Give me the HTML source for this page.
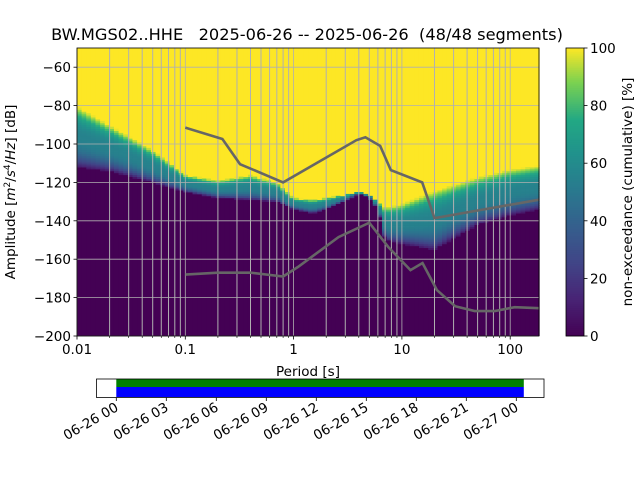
<!DOCTYPE html>
<html><head><meta charset="utf-8"><style>
body{margin:0;background:#fff;}
svg text{font-family:"DejaVu Sans","Liberation Sans",sans-serif;fill:#000;}
</style></head><body>
<svg id="chart" width="640" height="480" xmlns="http://www.w3.org/2000/svg">
<rect width="640" height="480" fill="#fff"/>
<text x="307" y="40" font-size="16.2" text-anchor="middle" xml:space="preserve">BW.MGS02..HHE   2025-06-26 -- 2025-06-26  (48/48 segments)</text>
<g id="heat"></g>
<g id="grid"></g>
<g id="models"></g>
<rect x="77" y="48" width="462" height="288" fill="none" stroke="#000" stroke-width="0.8"/>
<g id="axes"></g>
<text x="308" y="376" font-size="13.5" text-anchor="middle">Period [s]</text>
<text transform="translate(15,192) rotate(-90)" font-size="13.5" text-anchor="middle">Amplitude [<tspan font-style="italic">m</tspan><tspan font-size="9" dy="-5">2</tspan><tspan dy="5">/</tspan><tspan font-style="italic">s</tspan><tspan font-size="9" dy="-5">4</tspan><tspan dy="5">/</tspan><tspan font-style="italic">Hz</tspan>] [dB]</text>
<g id="cbar"></g>
<text transform="translate(632,192) rotate(-90)" font-size="13.5" text-anchor="middle">non-exceedance (cumulative) [%]</text>
<g id="timeline"></g>
</svg>
<script>
const NS="http://www.w3.org/2000/svg";
// ---- data ----
const edgePeriods=[0.01,0.02,0.05,0.1,0.2,0.4,0.7,1,1.5,2,4,5,6,7,10,20,50,100,185];
const lowerDb=[-112,-114,-120,-125,-128,-129,-130,-134,-136,-134,-126,-128,-134,-150,-152,-155,-142,-137,-134];
const upperDb=[-80,-90,-103,-116,-119,-116,-120,-128,-129,-128,-125,-126,-130,-133,-131,-124,-117,-113,-111];
const nhnmPeriods=[0.1,0.22,0.32,0.8,3.8,4.6,6.3,7.9,15.4,20,185];
const nhnmDb=[-91.5,-97.4,-110.5,-120,-98,-96.5,-101,-113.6,-120,-138.6,-129];
const nlnmPeriods=[0.1,0.2,0.4,0.8,1.1,2.6,5,7.5,12,15.5,21,31,47,72,110,185];
const nlnmDb=[-168,-167,-167,-169,-164,-148.5,-141,-153.7,-165.7,-162,-176,-184.5,-187,-187,-185,-185.5];
const xTicks=[0.01,0.1,1,10,100];
const xTickLabels=["0.01","0.1","1","10","100"];
const yTicks=[-60,-80,-100,-120,-140,-160,-180,-200];
const cbTicks=[0,20,40,60,80,100];
const timeTickLabels=["06-26 00","06-26 03","06-26 06","06-26 09","06-26 12","06-26 15","06-26 18","06-26 21","06-27 00"];
const timeTickHours=[0,3,6,9,12,15,18,21,24];
const dataStartHour=0, dataEndHour=24.45;
// ---- scales ----
const X0=77,X1=539,Y0=48,Y1=336;
const lx=p=>X0+(Math.log10(p)+2)*108.3;
const yv=d=>336-(d+200)*(288/150);
const vir=[[0,[68,1,84]],[0.13,[72,36,117]],[0.25,[65,68,135]],[0.38,[53,95,141]],[0.5,[42,120,142]],[0.63,[33,145,140]],[0.75,[34,168,132]],[0.88,[122,209,81]],[1,[253,231,37]]];
function vc(t){t=Math.max(0,Math.min(1,t));for(let i=1;i<vir.length;i++){if(t<=vir[i][0]){const a=vir[i-1],b=vir[i],f=(t-a[0])/(b[0]-a[0]);return "rgb("+a[1].map((c,k)=>Math.round(c+(b[1][k]-c)*f)).join(",")+")";}}return "rgb(253,231,37)";}
function interp(ps,vs,p){const l=Math.log10(p);for(let i=1;i<ps.length;i++){const a=Math.log10(ps[i-1]),b=Math.log10(ps[i]);if(l<=b){const f=(l-a)/(b-a);return vs[i-1]+(vs[i]-vs[i-1])*Math.max(0,f);}}return vs[vs.length-1];}
function mk(tag,attrs,parent){const e=document.createElementNS(NS,tag);for(const k in attrs)e.setAttribute(k,attrs[k]);parent.appendChild(e);return e;}
// cumulative shape: flat around teal in the middle of the band
function shape(f){const c=f-0.5;return 0.55+0.5*Math.sign(c)*Math.pow(Math.abs(2*c),2.2)*0.95;}
// ---- heatmap ----
const heat=document.getElementById('heat');
const ncol=100,lmin=-2,lmax=Math.log10(185);
for(let c=0;c<ncol;c++){
  const la=lmin+(lmax-lmin)*c/ncol,lb=lmin+(lmax-lmin)*(c+1)/ncol;
  const pm=Math.pow(10,(la+lb)/2);
  const lo=interp(edgePeriods,lowerDb,pm),hi=interp(edgePeriods,upperDb,pm);
  const xa=lx(Math.pow(10,la)),xb=lx(Math.pow(10,lb));
  const g=mk('g',{},heat);
  
  
  mk('rect',{x:xa,y:yv(Math.round(lo)),width:xb-xa+0.5,height:Y1-yv(Math.round(lo)),fill:vc(0)},g);
  mk('rect',{x:xa,y:Y0,width:xb-xa+0.5,height:yv(Math.round(hi))-Y0+0.5,fill:vc(1)},g);
  for(let d=Math.round(lo);d<Math.round(hi);d++){
    const f=(d+0.5-lo)/(hi-lo);
    mk('rect',{x:xa,y:yv(d+1),width:xb-xa+0.5,height:288/150+0.4,fill:vc(shape(Math.max(0,Math.min(1,f))))},g);
  }
}
// ---- grid ----
const grid=document.getElementById('grid');
for(let e=-2;e<=2;e++)for(let m=1;m<=9;m++){const p=m*Math.pow(10,e);if(p>185)break;const x=lx(p);
  const l=mk('line',{x1:x,x2:x,y1:Y0,y2:Y1,stroke:'#b0b0b0','stroke-width':m==1?0.8:1},grid);
  }
yTicks.forEach(d=>{const l=mk('line',{x1:X0,x2:X1,y1:yv(d),y2:yv(d),stroke:'#b0b0b0','stroke-width':0.8},grid);
  });
// ---- noise models ----
const models=document.getElementById('models');
const hl=mk('polyline',{points:nhnmPeriods.map((p,i)=>lx(p)+','+yv(nhnmDb[i])).join(' '),fill:'none',stroke:'#666','stroke-width':2.6},models);

const ll=mk('polyline',{points:nlnmPeriods.map((p,i)=>lx(p)+','+yv(nlnmDb[i])).join(' '),fill:'none',stroke:'#666','stroke-width':2.6},models);

// ---- axes ----
const axes=document.getElementById('axes');
xTicks.forEach((p,i)=>{const x=lx(p);mk('line',{x1:x,x2:x,y1:Y1,y2:Y1+3.5,stroke:'#000','stroke-width':0.8},axes);
  const t=mk('text',{x:x,y:Y1+18,'font-size':13.5,'text-anchor':'middle'},axes);t.textContent=xTickLabels[i];
  });
for(let e=-2;e<=2;e++)for(let m=2;m<=9;m++){const p=m*Math.pow(10,e);if(p>185)break;const x=lx(p);
  mk('line',{x1:x,x2:x,y1:Y1,y2:Y1+2,stroke:'#000','stroke-width':0.6},axes);}
yTicks.forEach(d=>{const y=yv(d);mk('line',{x1:X0-3.5,x2:X0,y1:y,y2:y,stroke:'#000','stroke-width':0.8},axes);
  const t=mk('text',{x:X0-6,y:y+5,'font-size':13.5,'text-anchor':'end'},axes);t.textContent=String(d).replace('-','−');
  });
// ---- colorbar ----
const cb=document.getElementById('cbar');
for(let i=0;i<144;i++){mk('rect',{x:566,y:Y1-(i+1)*2,width:18,height:2.3,fill:vc((i+0.5)/144)},cb);}
mk('rect',{x:566,y:Y0,width:18,height:288,fill:'none',stroke:'#000','stroke-width':0.8},cb);
cbTicks.forEach(v=>{const y=Y1-v*2.88;mk('line',{x1:584,x2:587.5,y1:y,y2:y,stroke:'#000','stroke-width':0.8},cb);
  const t=mk('text',{x:590,y:y+5,'font-size':13.5},cb);t.textContent=v;
  });
// ---- timeline ----
const tl=document.getElementById('timeline');
const tx=h=>116.3+h*(50/3);
const g1=mk('rect',{x:tx(dataStartHour),y:379,width:tx(dataEndHour)-tx(dataStartHour),height:8,fill:'#008000'},tl);

const b1=mk('rect',{x:tx(dataStartHour),y:387,width:tx(dataEndHour)-tx(dataStartHour),height:10,fill:'#0000ff'},tl);

mk('rect',{x:96.5,y:379,width:447.5,height:18.5,fill:'none',stroke:'#000','stroke-width':0.8},tl);
timeTickHours.forEach((h,i)=>{const x=tx(h);mk('line',{x1:x,x2:x,y1:397.5,y2:401,stroke:'#000','stroke-width':0.8},tl);
  const t=mk('text',{x:x+3,y:410,'font-size':13.5,'text-anchor':'end',transform:'rotate(-30 '+(x+3)+' 410)'},tl);t.textContent=timeTickLabels[i];
  });
</script>
</body></html>
